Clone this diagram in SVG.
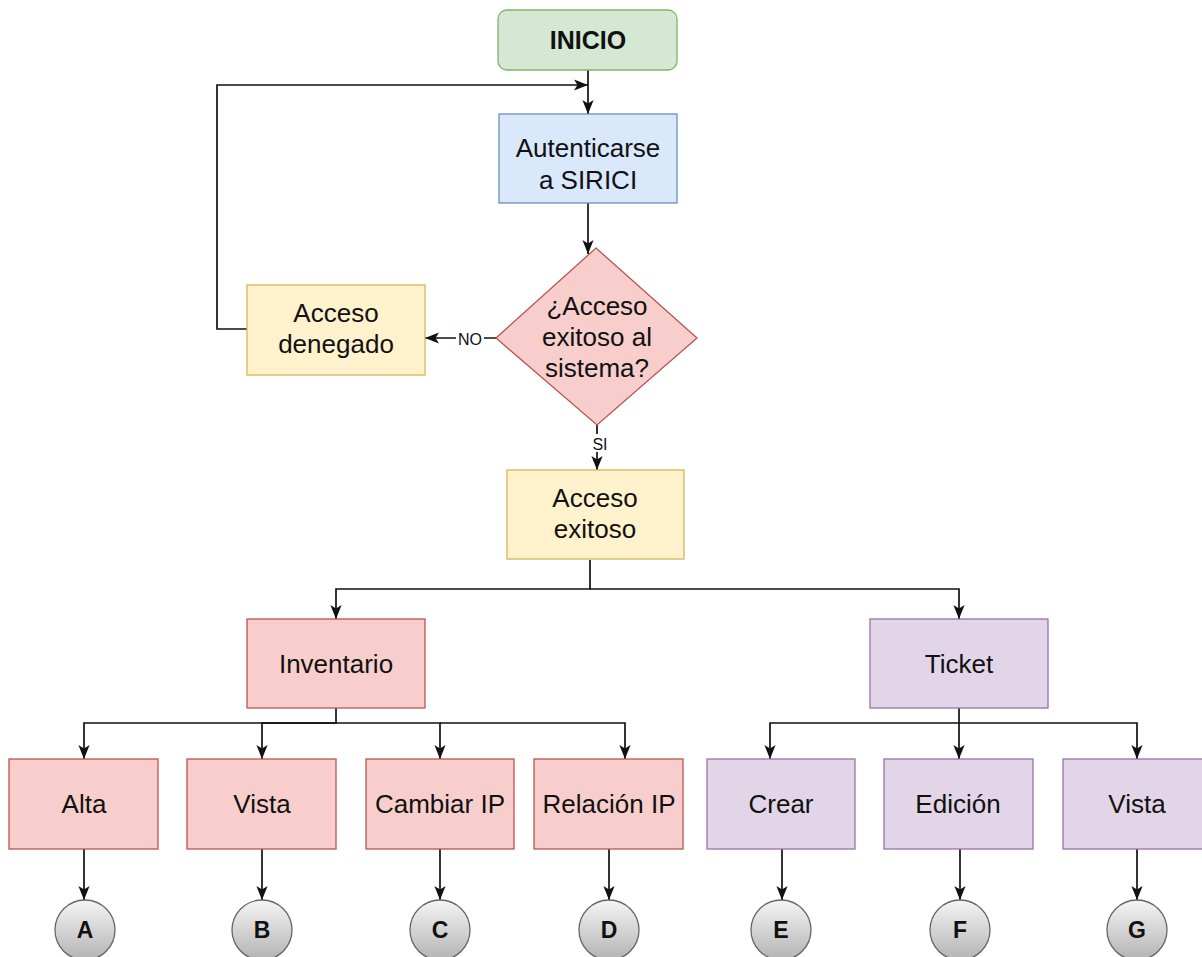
<svg xmlns="http://www.w3.org/2000/svg" width="1202" height="957" viewBox="0 0 1202 957">
<style>
  text { font-family: "Liberation Sans", Arial, Helvetica, sans-serif; fill: #111; text-anchor: middle; }
  .lbl { font-size: 26px; }
  .big { font-size: 25px; font-weight: bold; }
  .edge { font-size: 16px; }
  .circ { font-size: 23px; font-weight: bold; }
  .green { fill: #d5e8d4; stroke: #82b366; stroke-width: 1.3; }
  .blue { fill: #dae8fc; stroke: #6c8ebf; stroke-width: 1.3; }
  .yellow { fill: #fff2cc; stroke: #d6b656; stroke-width: 1.3; }
  .red { fill: #f8cecc; stroke: #b85450; stroke-width: 1.3; }
  .purple { fill: #e1d5e7; stroke: #9673a6; stroke-width: 1.3; }
  .gray { fill: url(#grayGrad); stroke: #666666; stroke-width: 1.3; }
  .conn path { fill: none; stroke: #111; stroke-width: 1.7; }
  .arrow { marker-end: url(#arr); }
</style>
<defs>
  <marker id="arr" markerUnits="userSpaceOnUse" viewBox="0 0 10 10" markerWidth="14" markerHeight="14" refX="10" refY="5" orient="auto">
    <path d="M0,1 L10,5 L0,9 L2.5,5 Z" fill="#111" stroke="none"/>
  </marker>
  <linearGradient id="grayGrad" x1="0" y1="0" x2="0" y2="1">
    <stop offset="0" stop-color="#f5f5f5"/>
    <stop offset="1" stop-color="#b3b3b3"/>
  </linearGradient>
</defs>
<rect x="0" y="0" width="1202" height="957" fill="#ffffff"/>

<g id="connectors" class="conn">
  <path class="arrow" d="M588,70 V114"/>
  <path class="arrow" d="M247,329 H217 V85 H588"/>
  <path class="arrow" d="M588,203 V254"/>
  <path class="arrow" d="M496,338 H425"/>
  <path class="arrow" d="M597,425 V470"/>
  <path class="arrow" d="M590,560 V589 H336 V619"/>
  <path class="arrow" d="M590,589 H959 V619"/>
  <path class="arrow" d="M336,708 V723 H84 V759"/>
  <path class="arrow" d="M336,723 H262 V759"/>
  <path class="arrow" d="M336,723 H440 V759"/>
  <path class="arrow" d="M440,723 H625 V759"/>
  <path class="arrow" d="M959,708 V723 H770 V759"/>
  <path class="arrow" d="M959,723 V759"/>
  <path class="arrow" d="M959,723 H1137 V759"/>
  <path class="arrow" d="M84,849 V900"/>
  <path class="arrow" d="M262,849 V900"/>
  <path class="arrow" d="M440,849 V900"/>
  <path class="arrow" d="M609,849 V900"/>
  <path class="arrow" d="M782,849 V900"/>
  <path class="arrow" d="M960,849 V900"/>
  <path class="arrow" d="M1137,849 V900"/>
  <rect x="456" y="330" width="28" height="18" fill="#ffffff"/>
  <text class="edge" x="470" y="345">NO</text>
  <rect x="589" y="434" width="22" height="18" fill="#ffffff"/>
  <text class="edge" x="600" y="450">SI</text>
</g>

<g id="inicio">
  <rect class="green" x="498" y="10" width="179" height="60" rx="9" ry="9"/>
  <text class="big" x="588" y="49">INICIO</text>
</g>
<g id="autenticarse">
  <rect class="blue" x="499" y="114" width="178" height="89"/>
  <text class="lbl" x="588" y="157">Autenticarse</text>
  <text class="lbl" x="588" y="189">a SIRICI</text>
</g>
<g id="decision">
  <polygon class="red" points="596,248 697,338 597,425 496,338"/>
  <text class="lbl" x="597" y="315">¿Acceso</text>
  <text class="lbl" x="597" y="346">exitoso al</text>
  <text class="lbl" x="597" y="377">sistema?</text>
</g>
<g id="acceso-denegado">
  <rect class="yellow" x="247" y="285" width="178" height="90"/>
  <text class="lbl" x="336" y="322">Acceso</text>
  <text class="lbl" x="336" y="353">denegado</text>
</g>
<g id="acceso-exitoso">
  <rect class="yellow" x="507" y="470" width="177" height="89"/>
  <text class="lbl" x="595" y="507">Acceso</text>
  <text class="lbl" x="595" y="538">exitoso</text>
</g>
<g id="inventario">
  <rect class="red" x="247" y="619" width="178" height="89"/>
  <text class="lbl" x="336" y="673">Inventario</text>
</g>
<g id="ticket">
  <rect class="purple" x="870" y="619" width="178" height="89"/>
  <text class="lbl" x="959" y="673">Ticket</text>
</g>
<g id="alta">
  <rect class="red" x="9" y="759" width="149" height="90"/>
  <text class="lbl" x="84" y="813">Alta</text>
</g>
<g id="vista-inv">
  <rect class="red" x="187" y="759" width="149" height="90"/>
  <text class="lbl" x="262" y="813">Vista</text>
</g>
<g id="cambiar-ip">
  <rect class="red" x="366" y="759" width="148" height="90"/>
  <text class="lbl" x="440" y="813">Cambiar IP</text>
</g>
<g id="relacion-ip">
  <rect class="red" x="534" y="759" width="149" height="90"/>
  <text class="lbl" x="609" y="813">Relación IP</text>
</g>
<g id="crear">
  <rect class="purple" x="707" y="759" width="148" height="90"/>
  <text class="lbl" x="781" y="813">Crear</text>
</g>
<g id="edicion">
  <rect class="purple" x="884" y="759" width="149" height="90"/>
  <text class="lbl" x="958" y="813">Edición</text>
</g>
<g id="vista-ticket">
  <rect class="purple" x="1063" y="759" width="149" height="90"/>
  <text class="lbl" x="1137" y="813">Vista</text>
</g>
<g id="circle-a">
  <circle class="gray" cx="85" cy="930" r="30"/>
  <text class="circ" x="85" y="938">A</text>
</g>
<g id="circle-b">
  <circle class="gray" cx="262" cy="930" r="30"/>
  <text class="circ" x="262" y="938">B</text>
</g>
<g id="circle-c">
  <circle class="gray" cx="440" cy="930" r="30"/>
  <text class="circ" x="440" y="938">C</text>
</g>
<g id="circle-d">
  <circle class="gray" cx="609" cy="930" r="30"/>
  <text class="circ" x="609" y="938">D</text>
</g>
<g id="circle-e">
  <circle class="gray" cx="781" cy="930" r="30"/>
  <text class="circ" x="781" y="938">E</text>
</g>
<g id="circle-f">
  <circle class="gray" cx="960" cy="930" r="30"/>
  <text class="circ" x="960" y="938">F</text>
</g>
<g id="circle-g">
  <circle class="gray" cx="1137" cy="930" r="30"/>
  <text class="circ" x="1137" y="938">G</text>
</g>
</svg>
